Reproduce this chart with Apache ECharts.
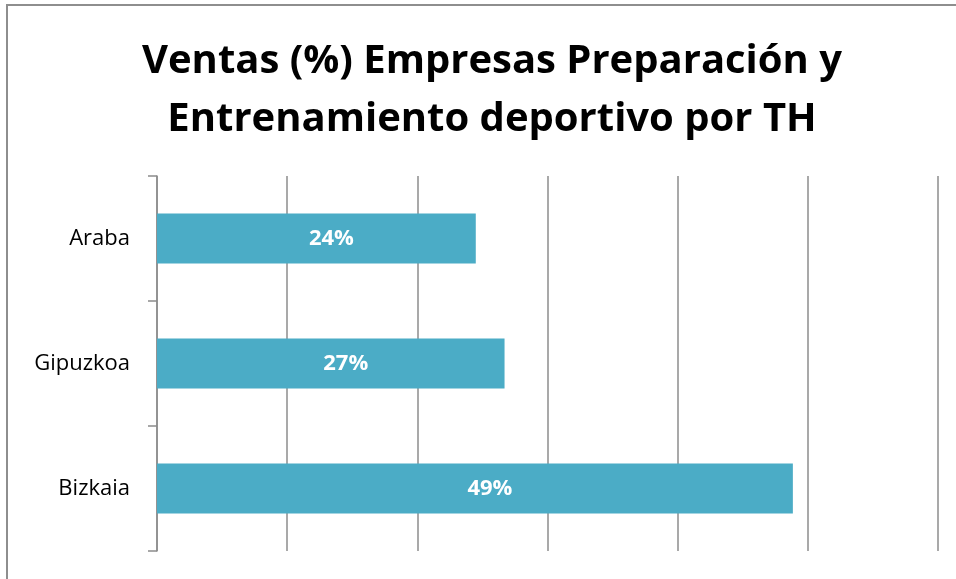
<!DOCTYPE html>
<html><head><meta charset="utf-8">
<script src="https://cdn.jsdelivr.net/npm/echarts@6/dist/echarts.min.js"></script>
<style>html,body{margin:0;padding:0;background:#fff}#c{width:956px;height:579px}</style>
</head><body><div id="c"></div>
<script>
const titleLines = ['Ventas (%) Empresas Preparación y', 'Entrenamiento deportivo por TH'];
const categories = ['Araba', 'Gipuzkoa', 'Bizkaia'];
const values = [0.2449, 0.267, 0.4885];
const xTicks = [0, 0.1, 0.2, 0.3, 0.4, 0.5, 0.6];

const chart = echarts.init(document.getElementById('c'));
chart.setOption({
  animation: false,
  backgroundColor: '#fff',
  title: {
    text: titleLines.join('\n'),
    left: 487, top: 28, textAlign: 'center',
    textStyle: { fontFamily: 'Open Sans', fontWeight: 'bold', fontSize: 40, lineHeight: 58, color: '#000' }
  },
  graphic: [{
    type: 'rect', shape: { x: 7, y: 5, width: 1200, height: 1200 },
    style: { fill: 'none', stroke: '#8e8e8e', lineWidth: 2 }, silent: true
  }],
  grid: { left: 157, right: 18, top: 176, bottom: 28, containLabel: false },
  xAxis: {
    type: 'value', min: xTicks[0], max: xTicks[xTicks.length - 1], interval: 0.1,
    axisLabel: { show: false }, axisLine: { show: false }, axisTick: { show: false },
    splitLine: { show: true, lineStyle: { color: '#8c8c8c', width: 1.5 } }
  },
  yAxis: {
    type: 'category', data: categories, inverse: true,
    axisLine: { show: true, lineStyle: { color: '#8c8c8c', width: 1.5 } },
    axisTick: { show: true, length: 9, lineStyle: { color: '#8c8c8c', width: 1.5 } },
    axisLabel: { margin: 27, fontFamily: 'Open Sans', fontSize: 22, color: '#000' }
  },
  series: [{
    type: 'bar', data: values, barWidth: '40%',
    itemStyle: { color: '#4BACC6' },
    label: {
      show: true, position: 'inside', offset: [15, 0], color: '#fff', fontFamily: 'Open Sans', fontWeight: 'bold', fontSize: 22,
      formatter: p => Math.round(p.value * 100) + '%'
    }
  }]
});
</script></body></html>
